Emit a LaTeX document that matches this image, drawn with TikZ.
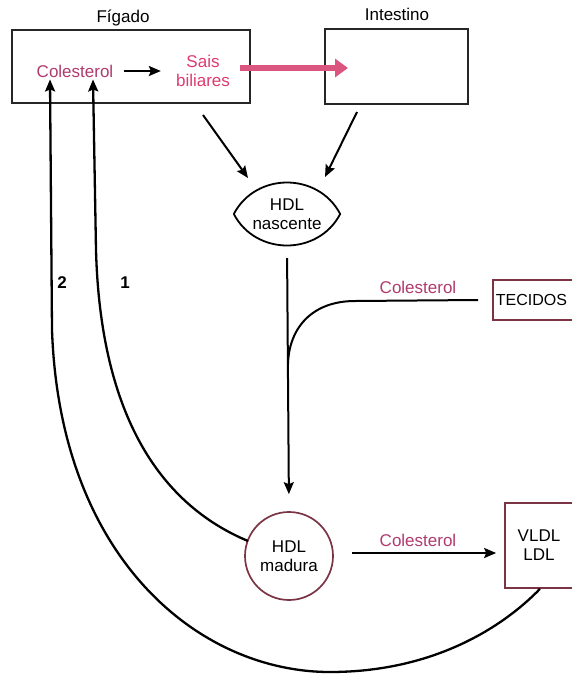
\documentclass[tikz,border=0pt]{standalone}
\usepackage{fontspec}
\setmainfont{Liberation Sans}
\usetikzlibrary{arrows.meta,calc}
\definecolor{pinktext}{HTML}{B03A6E}
\definecolor{saistext}{HTML}{DE3A6E}
\definecolor{pinkfill}{HTML}{DA5580}
\definecolor{maroon}{HTML}{7A3444}
\begin{document}
\begin{tikzpicture}[x=1pt,y=-1pt,
  txt/.style={font=\fontsize{17}{19}\selectfont, inner sep=0pt, align=center},
  ptxt/.style={txt, text=pinktext},
  box/.style={draw=black!85, line width=2pt, fill=none},
  mbox/.style={draw=maroon, line width=1.7pt},
  arr/.style={line width=2pt, -{Stealth[length=12pt,width=10pt,inset=2pt]}},
  curve/.style={line width=2.3pt, -{Stealth[length=12pt,width=10pt,inset=2pt]}},
  pinkarrow/.style={line width=6pt, draw=pinkfill, -{Triangle[length=13pt,width=18pt]}}
]
\useasboundingbox (0,0) rectangle (571,675);

% boxes
\node[box, minimum width=238pt, minimum height=73pt, inner sep=0pt] (fig) at (131,66.5) {};
\node[txt, anchor=base] (figlab) at (123,22) {Fígado};
\node[box, minimum width=143pt, minimum height=75pt, inner sep=0pt] (int) at (396.5,66.5) {};
\node[txt, anchor=base] (intlab) at (397,20) {Intestino};

\node[ptxt] (col) at (75,71) {Colesterol};
\node[txt, text=saistext] (sais) at (203,71) {Sais\\biliares};

\coordinate (pa) at (240,68);
\coordinate (pb) at (348,68);
\draw[pinkarrow] (pa) -- (pb);

\draw[arr, shorten <=11pt, shorten >=15pt] (col.east) -- (col.east -| sais.west);

% HDL nascente
\node[txt, minimum width=106pt, minimum height=64pt] (hdln) at (287,214) {HDL\\nascente};
\draw[line width=1.8pt] (hdln.west) .. controls +(22,-42) and +(-22,-42) .. (hdln.east)
  .. controls +(-22,42) and +(22,42) .. (hdln.west);

\coordinate (f1) at (203,115);
\coordinate (n1) at (248,178);
\coordinate (i1) at (357,112);
\coordinate (n2) at (325,177);
\draw[arr] (f1) -- (n1);
\draw[arr] (i1) -- (n2);

% TECIDOS
\node[mbox, txt, font=\fontsize{16}{19}\selectfont, minimum height=40pt, anchor=west, text=black, text width=95pt, align=left] (tec) at (492,300) {\hspace*{3pt}TECIDOS};
\node[ptxt] (ctec) at (418,287) {Colesterol};

% HDL madura
\node[txt, draw=maroon, line width=1.7pt, circle, minimum size=88pt] (hdlm) at (289,556) {HDL\\madura};

% VLDL LDL
\node[txt, mbox, minimum width=68pt, minimum height=85pt] (vl) at (539,545.5) {VLDL\\LDL};
\node[ptxt] (cvl) at (418,540) {Colesterol};

\draw[arr, shorten <=18pt, shorten >=8pt] ([yshift=3pt]hdlm.east) -- ([yshift=3pt]hdlm.east -| vl.west);

% nascent -> mature
\draw[arr, shorten <=12pt, shorten >=17pt] (hdln.south) -- (hdlm.north);
\coordinate (t1) at (355,301);
\draw[line width=2pt] ([xshift=-14pt]tec.west) -- (t1) .. controls (312,301) and (289,328) .. (288,364);

% curves back to liver
\draw[curve] (248,541) .. controls (150,500) and (100,400) .. (96,250) -- ([xshift=18pt,yshift=-2pt]col.south);
\draw[curve] ([xshift=1pt]vl.south) .. controls (500,630) and (430,672) .. (330,672)
  .. controls (200,672) and (60,560) .. (52,330) -- ([xshift=-25pt,yshift=-2pt]col.south);

\node[txt, font=\fontsize{17}{19}\selectfont\bfseries] (n2lab) at (62,283) {2};
\node[txt, font=\fontsize{17}{19}\selectfont\bfseries] (n1lab) at (125,283) {1};
\end{tikzpicture}
\end{document}
